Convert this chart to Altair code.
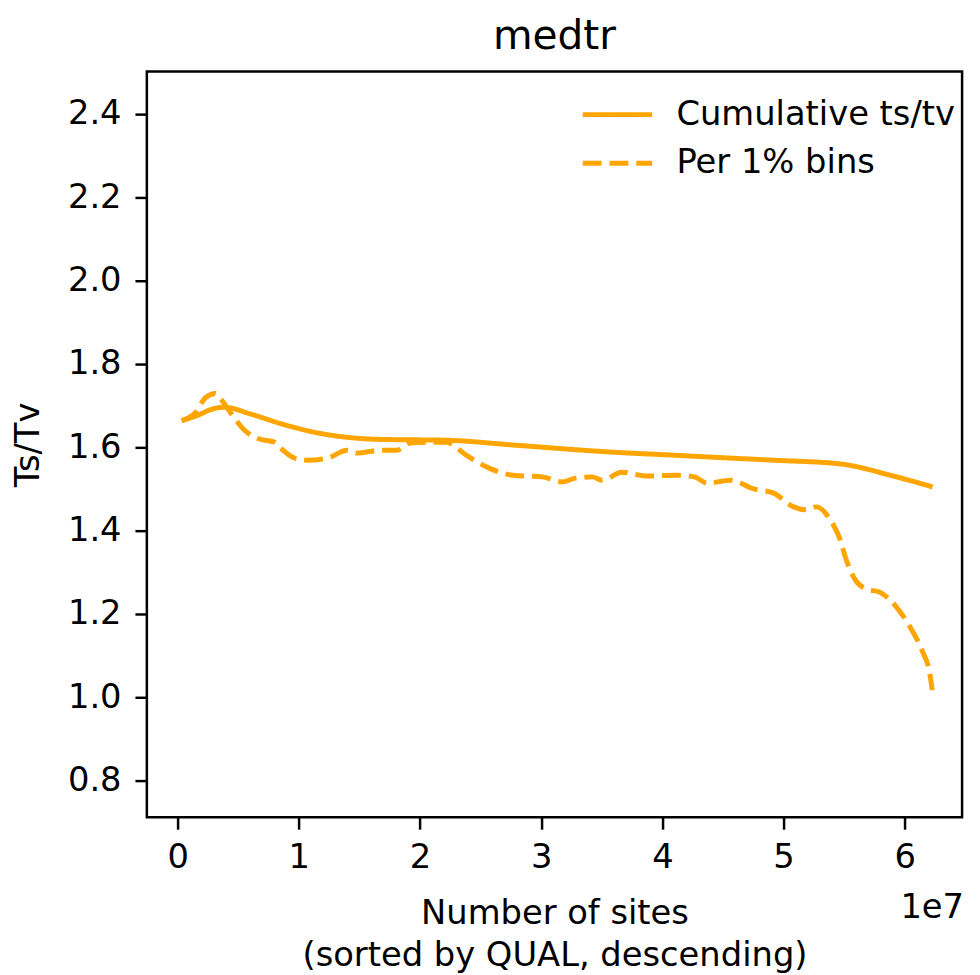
import altair as alt
import pandas as pd

# Cumulative ts/tv curve (x in number of sites)
cum_x = [0.33e6, 1.5e6, 3.0e6, 3.9e6, 6.0e6, 8.5e6, 11.3e6, 14.0e6, 16.7e6, 22.2e6,
         27.9e6, 36.1e6, 41.0e6, 44.3e6, 49.2e6, 54.7e6, 58.8e6, 62.3e6]
cum_y = [1.664, 1.675, 1.693, 1.696, 1.680, 1.657, 1.636, 1.624, 1.619, 1.617,
         1.605, 1.588, 1.581, 1.576, 1.569, 1.560, 1.533, 1.505]

# Per 1% bins curve
bin_x = [0.33e6, 1.47e6, 2.29e6, 3.11e6, 3.52e6, 4.42e6, 5.56e6, 6.63e6, 8.02e6, 8.51e6,
         9.66e6, 10.72e6, 12.36e6, 13.99e6, 14.81e6, 16.69e6, 18.08e6, 19.15e6, 20.79e6, 22.18e6,
         23.81e6, 25.70e6, 27.66e6, 30.11e6, 31.75e6, 32.82e6, 34.21e6, 35.02e6, 36.66e6, 38.79e6,
         41.00e6, 42.64e6, 43.70e6, 45.66e6, 47.55e6, 49.18e6, 50.82e6, 51.88e6, 52.70e6, 53.85e6,
         54.66e6, 55.16e6, 55.89e6, 56.79e6, 57.94e6, 59.25e6, 60.39e6, 61.46e6, 62.03e6, 62.27e6]
bin_y = [1.664, 1.683, 1.719, 1.729, 1.717, 1.681, 1.640, 1.621, 1.612, 1.598,
         1.574, 1.569, 1.574, 1.593, 1.586, 1.593, 1.593, 1.610, 1.612, 1.612,
         1.581, 1.550, 1.533, 1.529, 1.517, 1.526, 1.529, 1.521, 1.540, 1.531,
         1.533, 1.529, 1.514, 1.521, 1.500, 1.490, 1.457, 1.450, 1.457, 1.426,
         1.379, 1.331, 1.283, 1.260, 1.252, 1.219, 1.171, 1.110, 1.062, 1.017]

series_names = ["Cumulative ts/tv", "Per 1% bins"]
x_ticks = [0, 1e7, 2e7, 3e7, 4e7, 5e7, 6e7]
y_ticks = [0.8, 1.0, 1.2, 1.4, 1.6, 1.8, 2.0, 2.2, 2.4]

df = pd.concat([
    pd.DataFrame({"x": cum_x, "y": cum_y, "series": series_names[0], "order": range(len(cum_x))}),
    pd.DataFrame({"x": bin_x, "y": bin_y, "series": series_names[1], "order": range(len(bin_x))}),
])

ORANGE = "#FFA500"
FONT = "DejaVu Sans"
W, H = 822, 752

lines = alt.Chart(df).mark_line(color=ORANGE, strokeWidth=5, interpolate="monotone").encode(
    x=alt.X("x:Q",
            scale=alt.Scale(domain=[-2.54e6, 6.473e7], nice=False, zero=False),
            axis=alt.Axis(values=x_ticks, labelExpr="format(datum.value/1e7, 'd')",
                          title=["Number of sites", "(sorted by QUAL, descending)"],
                          grid=False, tickSize=12, tickWidth=2.5, tickColor="black",
                          labelFontSize=34, labelPadding=12, labelColor="black",
                          titleFontSize=34, titleFontWeight="normal", titlePadding=22,
                          titleColor="black", titleLineHeight=42, domain=False,
                          labelFont=FONT, titleFont=FONT)),
    y=alt.Y("y:Q",
            scale=alt.Scale(domain=[0.712, 2.502], nice=False, zero=False),
            axis=alt.Axis(values=y_ticks, format=".1f", title="Ts/Tv",
                          grid=False, tickSize=12, tickWidth=2.5, tickColor="black",
                          labelFontSize=34, labelPadding=14, labelColor="black",
                          titleFontSize=34, titleFontWeight="normal", titlePadding=22,
                          titleColor="black", domain=False,
                          labelFont=FONT, titleFont=FONT)),
    strokeDash=alt.StrokeDash("series:N",
                              scale=alt.Scale(domain=series_names, range=[[1, 0], [19, 8]]),
                              legend=alt.Legend(title=None, orient="none", legendX=437, legendY=19,
                                                symbolType="stroke", symbolSize=4900,
                                                symbolStrokeWidth=5, symbolStrokeColor=ORANGE,
                                                labelFontSize=34, labelFont=FONT, labelColor="black",
                                                labelOffset=22, labelLimit=0, clipHeight=49,
                                                rowPadding=0, padding=0)),
    order="order:Q",
)

onee7 = alt.Chart(pd.DataFrame({"t": ["1e7"]})).mark_text(
    font=FONT, fontSize=34, align="right", baseline="middle", color="black"
).encode(text="t:N", x=alt.value(W + 2), y=alt.value(H + 92))

chart = alt.layer(lines, onee7).properties(
    width=W, height=H,
    title=alt.TitleParams("medtr", font=FONT, fontSize=41, fontWeight="normal",
                          color="black", anchor="middle", offset=14),
    autosize=alt.AutoSizeParams(type="none"),
    padding={"left": 140, "top": 60, "right": 10, "bottom": 155},
).configure(background="white").configure_view(stroke="black", strokeWidth=2.5)

chart.save("out.html", embed_options={"renderer": "svg", "actions": False})
